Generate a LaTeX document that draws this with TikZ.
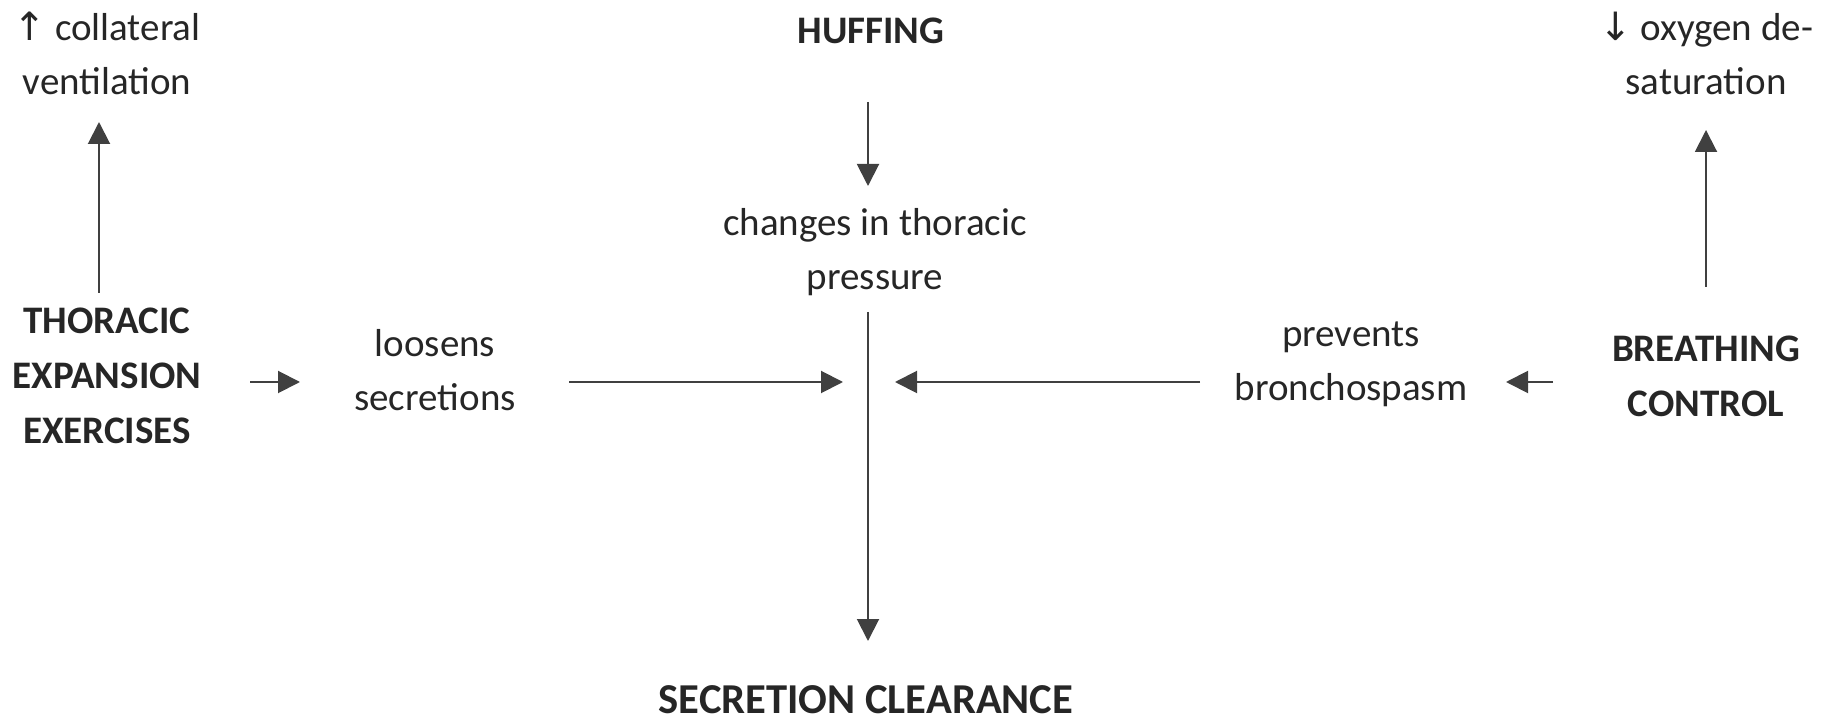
\documentclass[tikz,border=0pt]{standalone}
\usepackage{fontspec}
\setmainfont{Carlito}
\newfontfamily\arrowfont{DejaVu Sans}
\usetikzlibrary{arrows.meta}
\tikzset{
  lbl/.style={align=center, inner sep=0pt, text=black!85,
    font=\fontsize{19.5}{27}\selectfont},
  hd/.style={lbl, font=\fontsize{19.5}{27.5}\selectfont\bfseries},
  arr/.style={draw=black!75, line width=1pt,
    -{Triangle[length=11pt,width=11pt]}},
}
\begin{document}
\begin{tikzpicture}[x=0.5pt,y=-0.5pt]
          \useasboundingbox (0,0) rectangle (1827,721);
          \node[lbl] (coll) at (107,53) {{\arrowfont ↑} collateral\\ventilation};
          \node[hd]  (thor) at (107,376) {THORACIC\\EXPANSION\\EXERCISES};
          \node[lbl] (loos) at (435,370) {loosens\\secretions};
          \node[hd]  (huff) at (871,31) {HUFFING};
          \node[lbl] (chng) at (875,252) {changes in thoracic\\pressure};
          \node[lbl] (prev) at (1351,364) {prevents\\bronchospasm};
          \node[hd]  (brth) at (1706,376) {BREATHING\\CONTROL};
          \node[lbl] (oxy)  at (1706,53) {{\arrowfont ↓} oxygen de-\\saturation};
          \node[hd, font=\fontsize{21.3}{27}\selectfont\bfseries]
                     (secr) at (866,700) {SECRETION CLEARANCE};
          \coordinate (hub) at (868,382);

          \draw[arr, shorten <=41.5pt, shorten >=34.5pt]
            ([xshift=-4pt]thor.center) -- ([xshift=-4pt]coll.center);
          \draw[arr, shorten <=71.5pt, shorten >=67.5pt]
            (thor.center |- hub) -- (loos.center |- hub);
          \draw[arr, shorten <=67pt, shorten >=12.5pt]
            (loos.center |- hub) -- (hub);
          \draw[arr, shorten <=75.5pt, shorten >=13.5pt]
            (prev.center |- hub) -- (hub);
          \draw[arr, shorten <=76.5pt, shorten >=77.5pt]
            (brth.center |- hub) -- (prev.center |- hub);
          \draw[arr, shorten <=44.5pt, shorten >=38.5pt]
            (brth.center) -- (oxy.center);
          \draw[arr, shorten <=35.5pt, shorten >=33pt]
            (huff.center -| hub) -- (chng.center -| hub);
          \draw[arr, shorten <=30pt, shorten >=29.5pt]
            (chng.center -| hub) -- (secr.center -| hub);
      \end{tikzpicture}
\end{document}
